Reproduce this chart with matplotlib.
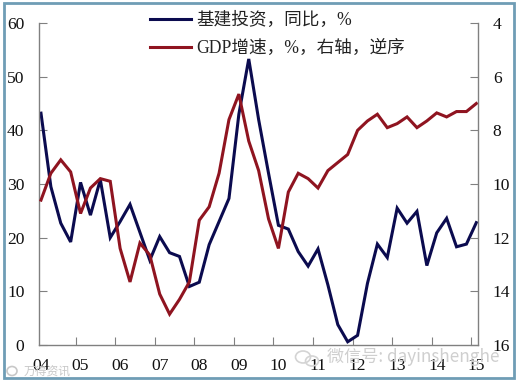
import matplotlib
matplotlib.use("Agg")
import matplotlib.pyplot as plt
from matplotlib.patches import Rectangle, Ellipse

plt.rcParams['font.family'] = ['Liberation Serif', 'Noto Sans CJK SC']

# quarterly, 2004Q1 to 2015Q1
invest = [43.2, 29.5, 22.7, 19.2, 30.3, 24.2, 30.8, 20.0, 23.0, 26.2, 21.0, 15.8,
          20.2, 17.2, 16.5, 10.9, 11.7, 18.7, 23.0, 27.3, 43.0, 53.3, 42.0, 32.0,
          22.3, 21.6, 17.4, 14.7, 17.9, 11.2, 3.8, 0.6, 1.8, 11.5, 18.8, 16.3,
          25.5, 22.7, 24.9, 14.8, 20.9, 23.6, 18.3, 18.8, 22.8]
gdp = [10.6, 9.6, 9.1, 9.55, 11.1, 10.15, 9.8, 9.9, 12.4, 13.65, 12.2, 12.65,
       14.1, 14.85, 14.3, 13.65, 11.35, 10.85, 9.6, 7.6, 6.65, 8.4, 9.5, 11.3,
       12.4, 10.3, 9.6, 9.8, 10.15, 9.5, 9.2, 8.9, 8.0, 7.65, 7.4, 7.9,
       7.75, 7.5, 7.9, 7.65, 7.35, 7.5, 7.3, 7.3, 7.0]
year_labels = ['04', '05', '06', '07', '08', '09', '10', '11', '12', '13', '14', '15']

navy = '#0b0b4f'
red = '#8f1420'
grey = '#808080'

fig = plt.figure(figsize=(5.17, 3.83), dpi=100)
ax = fig.add_axes([38.5 / 517, 1 - 345 / 383, (477.5 - 38.5) / 517, (345 - 23) / 383])
ax2 = ax.twinx()

x = list(range(len(invest)))
l1, = ax.plot(x, invest, color=navy, lw=2.2, solid_joinstyle='miter')
l2, = ax2.plot(x, gdp, color=red, lw=2.2, solid_joinstyle='miter')

ax.set_xlim(-0.25, 44.12)
ax.set_ylim(0, 60)
ax2.set_ylim(16, 4)
ax.set_yticks(range(0, 61, 10))
ax2.set_yticks(range(4, 17, 2))

# ticks sit on the year boundaries, labels under the first quarter
ax.set_xticks([i + 3.5 for i in range(0, 44, 4)])
ax.set_xticklabels([])
for i, lab in enumerate(year_labels):
    ax.annotate(lab, (i * 4, 0), xycoords=('data', 'axes fraction'), xytext=(0, -15),
                textcoords='offset points', ha='center', va='center', fontsize=12.6, color='#111111')

for a in (ax, ax2):
    for s in a.spines.values():
        s.set_visible(False)
ax.spines['left'].set_visible(True)
ax.spines['bottom'].set_visible(True)
ax2.spines['right'].set_visible(True)
for s in (ax.spines['left'], ax.spines['bottom'], ax2.spines['right']):
    s.set_color(grey)
    s.set_linewidth(1)

ax.tick_params(axis='y', direction='in', length=6, color=grey, labelsize=12.6, pad=10, labelcolor='#111111')
ax.tick_params(axis='x', direction='in', length=6, color=grey)
ax2.tick_params(axis='y', direction='in', length=6, color=grey, labelsize=12.6, pad=11, labelcolor='#111111')

# legend
leg = ax2.legend([l1, l2], ['基建投资，同比，%', 'GDP增速，%，右轴，逆序'], frameon=False,
                 loc='upper left', bbox_to_anchor=(0.254, 1.033), fontsize=12.7,
                 handlelength=2.33, handletextpad=0.28, labelspacing=0.59, borderpad=0, borderaxespad=0)
for t in leg.get_texts():
    t.set_color('#222222')

# outer frame
fig.add_artist(Rectangle((3.5 / 517, 1 - 378 / 383), 510 / 517, 375 / 383, transform=fig.transFigure,
                         fill=False, edgecolor='#6f9db5', lw=2))

# watermarks
fig.text(413.5 / 517, 1 - 357 / 383, '微信号: dayinshenghe', color='#cfcfcf', fontsize=12.3,
         ha='center', va='center', family=['Noto Sans CJK SC', 'DejaVu Sans'])
fig.text(47 / 517, 1 - 372 / 383, '万得资讯', color='#c8c8c8', fontsize=8.5,
         ha='center', va='center', family=['Noto Sans CJK SC', 'DejaVu Sans'])
for cx, cy, w, h in [(303, 357, 15, 12), (312, 361, 13, 10)]:
    fig.add_artist(Ellipse((cx / 517, 1 - cy / 383), w / 517, h / 383, transform=fig.transFigure,
                           fill=False, edgecolor='#d4d4d4', lw=1.2))
fig.add_artist(Ellipse((12 / 517, 1 - 371 / 383), 10 / 517, 9 / 383, transform=fig.transFigure,
                       fill=False, edgecolor='#c8c8c8', lw=1.2))

fig.savefig('out.png', dpi=100)
